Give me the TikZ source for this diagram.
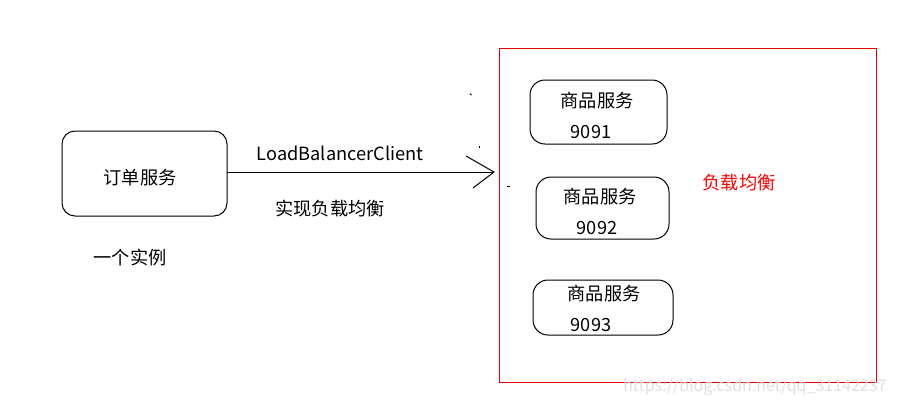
\documentclass[tikz,border=0pt]{standalone}
\usepackage{fontspec}
\setmainfont{Noto Sans CJK SC}
\begin{document}
\begin{tikzpicture}[x=1pt,y=-1pt,
  box/.style={draw=black,line width=1pt,rounded corners=13pt},
  lbl/.style={font=\fontsize{18.2}{20}\selectfont,inner sep=0pt,anchor=center},
  link/.style={draw=black,line width=1pt}]
\useasboundingbox (0,0) rectangle (899,405);
\fill[white] (0,0) rectangle (899,405);
% left service
\draw[box] (62,131) rectangle (227,216);
\node[lbl] (order) at (140,178) {订单服务};
\node[lbl] (inst) at (130,258) {一个实例};
\coordinate (a0) at (227,172);
\coordinate (a1) at (494,172);
\coordinate (h1) at (466,156);
\coordinate (h2) at (473,188);
\draw[link] (a0) -- (a1);
\draw[link] (h1) -- (a1) -- (h2);
\node[lbl] (lb) at (340,153) {LoadBalancerClient};
\node[lbl] (impl) at (330,209) {实现负载均衡};
% stray marks
\draw[line width=0.8pt] (470,93.5) -- (471.5,95);
\draw[line width=0.8pt] (479,146) -- (479,148);
\draw[line width=0.8pt] (507,186) -- (510,186);
% red group
\node[draw=red!90!black,line width=1pt,minimum width=377pt,minimum height=334pt,inner sep=0pt] (grp) at (687.5,215) {};
\draw[box,rounded corners=15pt] (530,80) rectangle (667,144);
\node[lbl] (s1) at (597,101) {商品服务};
\node[lbl] (p1) at (591,132) {9091};
\draw[box,rounded corners=15pt] (536,177) rectangle (669,239);
\node[lbl] (s2) at (600,197) {商品服务};
\node[lbl] (p2) at (597,228) {9092};
\draw[box,rounded corners=15pt] (533,280) rectangle (673,335);
\node[lbl] (s3) at (604,294) {商品服务};
\node[lbl] (p3) at (591,325) {9093};
\node[lbl,text=red] (lbtxt) at (739,183) {负载均衡};
\node[lbl,text=black!12,font=\fontsize{16}{17}\selectfont] (wm) at (755,387) {https://blog.csdn.net/qq\_31142237};
\end{tikzpicture}
\end{document}
